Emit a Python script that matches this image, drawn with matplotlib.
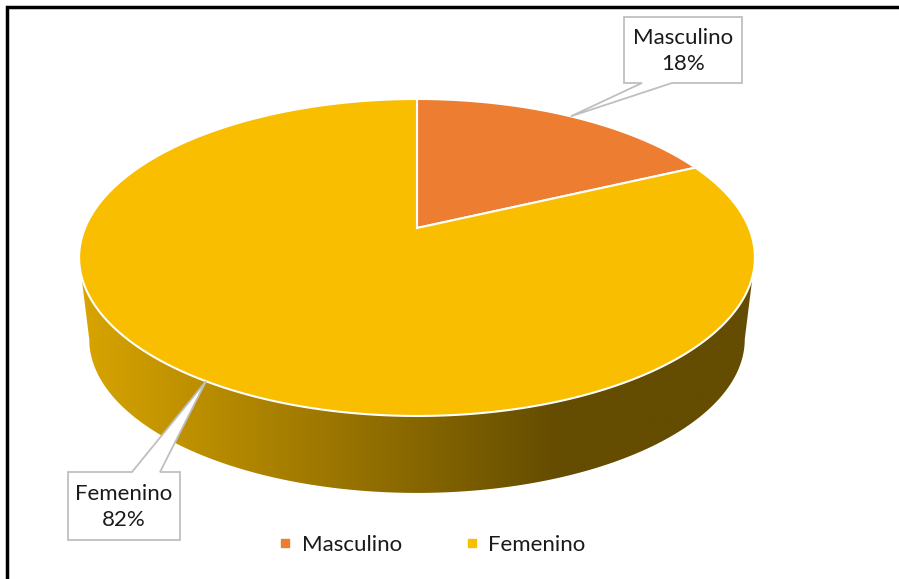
import numpy as np
import matplotlib
matplotlib.use('Agg')
import matplotlib.pyplot as plt
from matplotlib.patches import Polygon
from matplotlib.lines import Line2D

# data
categorias = ['Masculino', 'Femenino']
porcentajes = [18, 82]
colores = ['#ED7D31', '#FABE00']

# geometry of the 3D pie (pixel units)
cx, cy = 417, 228        # projected centre of the top face
A, B = 332.0, 153.0      # half-width / half-height of the circle before perspective
k = 0.186                # perspective strength
prof = 82.6              # depth of the side
esc_fondo = 0.97         # bottom rim looks a bit smaller

plt.rcParams['font.family'] = ['Lato', 'DejaVu Sans']

fig = plt.figure(figsize=(8.99, 5.79), dpi=100)
ax = fig.add_axes([0, 0, 1, 1])


def proyectar(phi, fondo=False):
    # phi in degrees, clockwise from 12 o'clock
    phi = np.radians(phi)
    X = np.sin(phi)
    Y = -np.cos(phi)
    w = 1 - k * Y
    if fondo:
        return cx + esc_fondo * A * X / w, cy + prof + esc_fondo * B * Y / w
    return cx + A * X / w, cy + B * Y / w


# slice angles
fracs = np.array(porcentajes) / sum(porcentajes)
bordes = np.concatenate([[0], np.cumsum(fracs) * 360])

# visible front part of the side
frente0 = np.degrees(np.arccos(-k))
frente1 = 360 - frente0

# sides first
for i in range(len(categorias)):
    a0 = max(bordes[i], frente0)
    a1 = min(bordes[i + 1], frente1)
    if a1 <= a0:
        continue
    t = np.linspace(a0, a1, 200)
    ux, uy = proyectar(t)
    bx, by = proyectar(t[::-1], fondo=True)
    pts = np.column_stack([np.concatenate([ux, bx]), np.concatenate([uy, by])])
    lado = Polygon(pts, closed=True, facecolor='none', edgecolor='none')
    ax.add_patch(lado)
    base = np.array(matplotlib.colors.to_rgb(colores[i]))
    xs = np.linspace(ux.min() - 5, ux.max() + 5, 400)
    f = np.clip((xs - 85) / (560 - 85), 0, 1)
    luz = 0.86 - (0.86 - 0.40) * f
    img = (base[None, :] * luz[:, None])[None, :, :]
    im = ax.imshow(img, extent=(xs[0], xs[-1], by.max() + 5, uy.min() - 5),
                   aspect='auto', interpolation='bilinear', zorder=1)
    im.set_clip_path(lado)

# top face
for i in range(len(categorias)):
    t = np.linspace(bordes[i], bordes[i + 1], 300)
    ux, uy = proyectar(t)
    pts = np.column_stack([np.concatenate([[cx], ux]), np.concatenate([[cy], uy])])
    ax.add_patch(Polygon(pts, closed=True, facecolor=colores[i], edgecolor='white',
                         linewidth=1.5, joinstyle='miter', zorder=2))

# callouts
cajas = [(624, 17, 742, 83, 642, 672, 'abajo'),
         (68, 472, 180, 540, 132, 160, 'arriba')]
for i, (x0, y0, x1, y1, n0, n1, lado_n) in enumerate(cajas):
    medio = (bordes[i] + bordes[i + 1]) / 2
    px, py = proyectar(medio)
    if lado_n == 'abajo':
        pts = [(x0, y0), (x1, y0), (x1, y1), (n1, y1), (px, py), (n0, y1), (x0, y1)]
    else:
        pts = [(x0, y0), (n0, y0), (px, py), (n1, y0), (x1, y0), (x1, y1), (x0, y1)]
    ax.add_patch(Polygon(pts, closed=True, facecolor='white', edgecolor='#BFBFBF',
                         linewidth=1.3, zorder=3))
    ax.text((x0 + x1) / 2, (y0 + y1) / 2 + 1, f'{categorias[i]}\n{porcentajes[i]}%',
            ha='center', va='center', fontsize=16, color='#1a1a1a',
            linespacing=1.35, zorder=4)

# legend
handles = [Line2D([], [], marker='s', linestyle='none', markersize=6,
                  markerfacecolor=c, markeredgecolor=c) for c in colores]
fig.legend(handles, categorias, loc='center', bbox_to_anchor=(432 / 899, 1 - 545 / 579),
           ncol=2, frameon=False, fontsize=16, handlelength=0.6, handletextpad=0.45,
           columnspacing=2.85, labelcolor='#1a1a1a')

# chart border (only top and left fall inside the picture)
ax.plot([7, 7, 905], [590, 7, 7], color='black', linewidth=2.5, zorder=5,
        solid_joinstyle='miter')

ax.set_xlim(0, 899)
ax.set_ylim(579, 0)
ax.axis('off')

fig.savefig('out.png', dpi=100)
